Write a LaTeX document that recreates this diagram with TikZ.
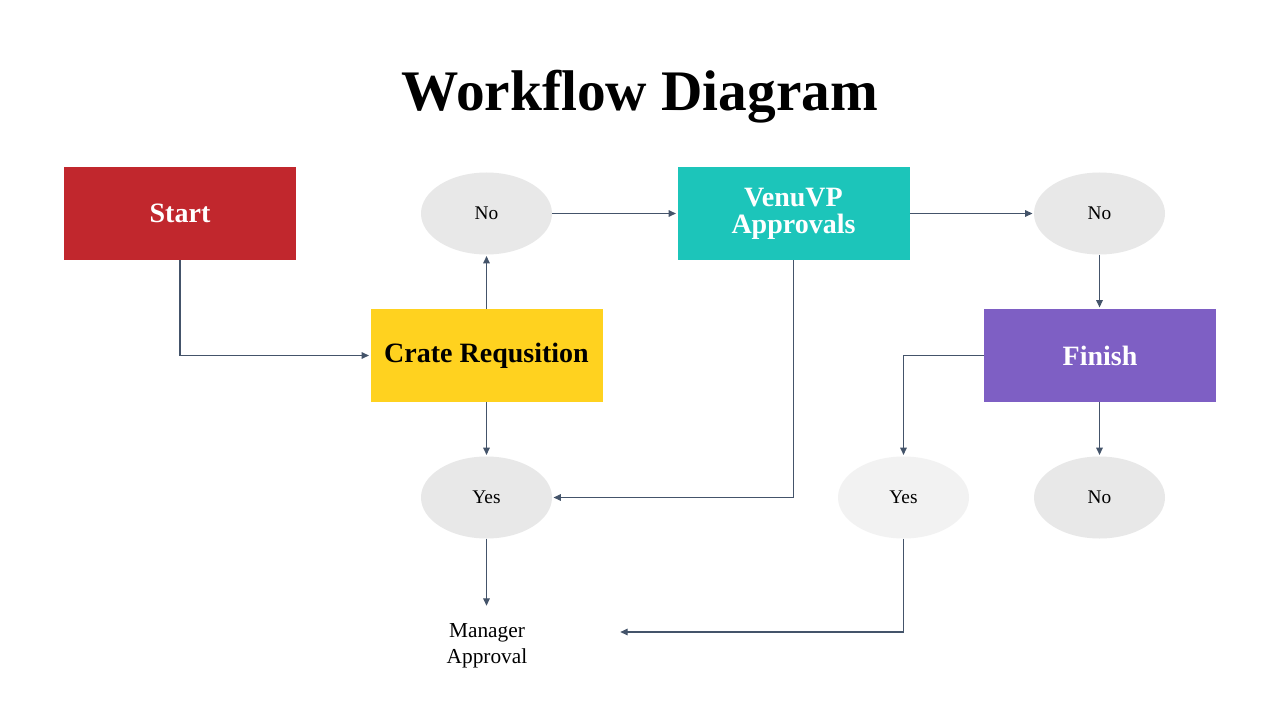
\documentclass[tikz,border=0pt]{standalone}
\usepackage{fontspec}
\setmainfont{Liberation Serif}
\usetikzlibrary{shapes.geometric,arrows.meta}
\definecolor{cred}{HTML}{C1272D}
\definecolor{cteal}{HTML}{1CC5BA}
\definecolor{cyellow}{HTML}{FFD21F}
\definecolor{cpurple}{HTML}{7E5FC4}
\definecolor{cgray}{HTML}{E8E8E8}
\definecolor{clight}{HTML}{F2F2F2}
\definecolor{cline}{HTML}{44546A}
\tikzset{
  box/.style={rectangle, minimum width=174pt, minimum height=69.75pt, inner sep=0pt,
    font=\fontsize{21}{24}\selectfont\bfseries, align=center, text=white},
  oval/.style={ellipse, fill=cgray, minimum width=98.25pt, minimum height=61.5pt, inner sep=0pt,
    font=\fontsize{14.5}{17}\selectfont},
  conn/.style={draw=cline, line width=0.8pt, -{Triangle[length=5.5pt,width=5pt]}, shorten >=1pt}
}
\begin{document}
\begin{tikzpicture}[x=0.75pt,y=-0.75pt]
\useasboundingbox[fill=white] (0,0) rectangle (1280,720);
\node[font=\fontsize{43}{48}\selectfont\bfseries] (title) at (640,97) {Workflow Diagram};
\node[box, fill=cred] (start) at (180,213.5) {Start};
\node[box, fill=cteal] (venu) at (793.5,213.5) {\raisebox{-2pt}{VenuVP}\\[-2pt]Approvals};
\node[box, fill=cyellow, text=black] (crate) at (486.5,355.5) {Crate Requsition};
\node[box, fill=cpurple] (finish) at (1100,355.5) {Finish};
\node[oval] (no1) at (486.5,213.5) {No};
\node[oval] (no2) at (1099.5,213.5) {No};
\node[oval] (yes1) at (486.5,497.5) {Yes};
\node[oval, fill=clight] (yes2) at (903.5,497.5) {Yes};
\node[oval] (no3) at (1099.5,497.5) {No};
\node[font=\fontsize{16}{19.5}\selectfont, align=center] (mgr) at (487,646) {Manager\\Approval};
\coordinate (mgrtop) at (486.5,607);
\coordinate (mgrin) at (619,632);
\draw[conn] (start.south) |- (crate.west);
\draw[conn] (crate.north) -- (no1.south);
\draw[conn] (no1.east) -- (venu.west);
\draw[conn] (venu.east) -- (no2.west);
\draw[conn] (no2.south) -- (finish.north -| no2.south);
\draw[conn] (crate.south) -- (yes1.north);
\draw[conn] (venu.south) |- (yes1.east);
\draw[conn] (finish.west) -| (yes2.north);
\draw[conn] (finish.south -| no3.north) -- (no3.north);
\draw[conn] (yes1.south) -- (mgrtop);
\draw[conn] (yes2.south) |- (mgrin);
\end{tikzpicture}
\end{document}
